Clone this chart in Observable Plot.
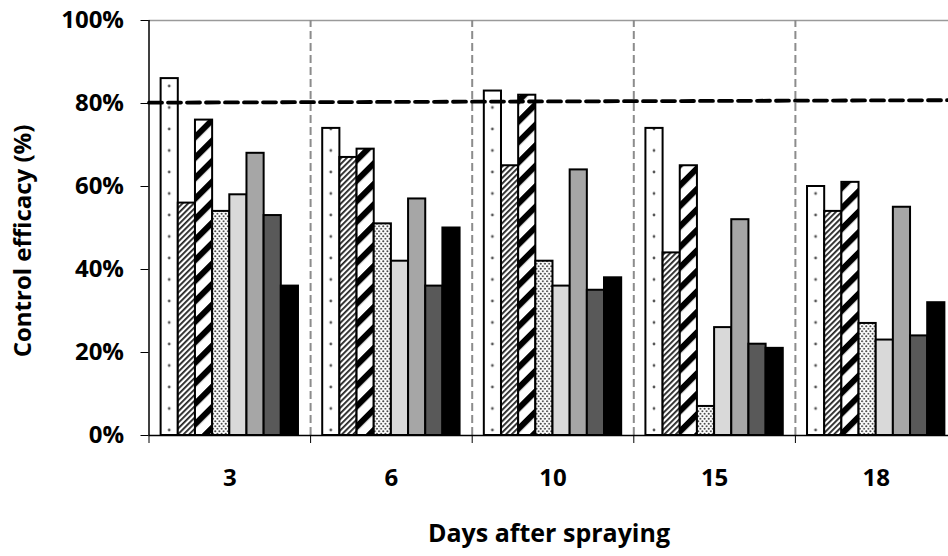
<!DOCTYPE html>
<html><head><meta charset="utf-8">
<script src="https://cdn.jsdelivr.net/npm/d3@7"></script>
<script src="https://cdn.jsdelivr.net/npm/@observablehq/plot@0.6"></script>
<style>html,body{margin:0;padding:0;background:#fff;overflow:hidden;}</style>
</head><body><div id="chart"></div>
<script>
// ---- data ----
const days = ["3", "6", "10", "15", "18"];
const seriesNames = ["T1", "T2", "T3", "T4", "T5", "T6", "T7", "T8"];
const t1 = [86, 74, 83, 74, 60];
const t2 = [56, 67, 65, 44, 54];
const t3 = [76, 69, 82, 65, 61];
const t4 = [54, 51, 42, 7, 27];
const t5 = [58, 42, 36, 26, 23];
const t6 = [68, 57, 64, 52, 55];
const t7 = [53, 36, 35, 22, 24];
const t8 = [36, 50, 38, 21, 32];
const seriesValues = [t1, t2, t3, t4, t5, t6, t7, t8];
const yTicks = [0, 20, 40, 60, 80, 100];
const thresholdX = [0, days.length];
const thresholdY = [80.2, 80.8];
const yLabel = "Control efficacy (%)";
const xLabel = "Days after spraying";

// ---- styles ----
const seriesFills = ["url(#pDots)", "url(#pFine)", "url(#pWide)", "url(#pDense)", "#d9d9d9", "#a6a6a6", "#595959", "#000000"];
const groupFrac = 0.85;
const barW = groupFrac / seriesNames.length;
const off = (1 - groupFrac) / 2;

const rows = [];
seriesValues.forEach((vals, s) => vals.forEach((v, g) => rows.push({g, s, day: days[g], series: seriesNames[s], value: v})));
const threshold = thresholdX.map((x, i) => ({x, y: thresholdY[i]}));
const boundaries = d3.range(1, days.length);
const centers = days.map((d, i) => i + 0.5);

const font = "'Open Sans', sans-serif";

const plot = Plot.plot({
  width: 948,
  height: 556,
  marginTop: 20,
  marginBottom: 121,
  marginLeft: 148.5,
  marginRight: -8.5,
  style: {fontFamily: font, fontWeight: "bold", background: "#fff", color: "#000", overflow: "visible"},
  x: {type: "linear", domain: [0, days.length], axis: null},
  y: {domain: [0, 100], axis: null},
  marks: [
    Plot.ruleY([100], {x1: 0, x2: days.length, stroke: "#9a9a9a", strokeWidth: 1.5}),
    Plot.ruleX(boundaries, {y1: 0, y2: 100, stroke: "#8c8c8c", strokeWidth: 2, strokeDasharray: "8,4"}),
    ...seriesFills.map((fill, s) => Plot.rectY(rows.filter(d => d.s === s), {
      x1: d => d.g + off + d.s * barW,
      x2: d => d.g + off + (d.s + 1) * barW,
      y1: 0, y2: "value",
      fill, stroke: "#000", strokeWidth: 2
    })),
    Plot.line(threshold, {x: "x", y: "y", stroke: "#000", strokeWidth: 3.8, strokeDasharray: "13,6"}),
    Plot.ruleX([0], {y1: 0, y2: 100, stroke: "#000", strokeWidth: 1.5}),
    Plot.ruleY([0], {x1: 0, x2: days.length, stroke: "#000", strokeWidth: 1.5}),
    Plot.axisY({ticks: yTicks, tickFormat: d => d + "%", tickSize: 8, tickPadding: 17, fontSize: 24, fontWeight: "bold", label: null, stroke: "#000"}),
    Plot.axisX({ticks: d3.range(0, days.length + 1), tickFormat: () => "", tickSize: 8, label: null, stroke: "#000"}),
    Plot.axisX({ticks: centers, tickFormat: d => days[Math.floor(d)], tickSize: 0, tickPadding: 33, fontSize: 24, fontWeight: "bold", label: null}),
    Plot.text([yLabel], {frameAnchor: "left", textAnchor: "middle", dx: -126, dy: 13, rotate: -90, fontSize: 24, fontWeight: "bold", fill: "#000"}),
    Plot.text([xLabel], {frameAnchor: "bottom", dx: -4, dy: 106, fontSize: 25, fontWeight: "bold", fill: "#000"})
  ]
});

// ---- patterns (geometry derived from the plot scales) ----
const xs = plot.scale("x"), ys = plot.scale("y");
const step = xs.apply(1) - xs.apply(0);
const dotH = 21.5;
const ns = "http://www.w3.org/2000/svg";
const defs = document.createElementNS(ns, "defs");
function el(name, attrs, parent) {
  const e = document.createElementNS(ns, name);
  for (const k in attrs) e.setAttribute(k, attrs[k]);
  (parent || defs).appendChild(e);
  return e;
}
// sparse dots, one column centered in each series-1 bar
let p = el("pattern", {id: "pDots", patternUnits: "userSpaceOnUse", width: step, height: dotH,
  x: xs.apply(off + barW / 2) - step / 2, y: ys.apply(0) - 5 - dotH / 2});
el("rect", {width: step, height: dotH, fill: "#fff"}, p);
el("circle", {cx: step / 2, cy: dotH / 2, r: 1.4, fill: "#555"}, p);
// fine hatch
p = el("pattern", {id: "pFine", patternUnits: "userSpaceOnUse", width: 4, height: 4, patternTransform: "rotate(45)"});
el("rect", {width: 4, height: 4, fill: "#fff"}, p);
el("rect", {x: 0, y: 0, width: 1.8, height: 4, fill: "#222"}, p);
// wide stripes
p = el("pattern", {id: "pWide", patternUnits: "userSpaceOnUse", width: 14.5, height: 14.5, patternTransform: "rotate(45)"});
el("rect", {width: 14.5, height: 14.5, fill: "#fff"}, p);
el("rect", {x: 0, y: 0, width: 6, height: 14.5, fill: "#000"}, p);
// dense dots
p = el("pattern", {id: "pDense", patternUnits: "userSpaceOnUse", width: 4.2, height: 5});
el("rect", {width: 4.2, height: 5, fill: "#fff"}, p);
el("circle", {cx: 1.05, cy: 1.25, r: 1.0, fill: "#444"}, p);
el("circle", {cx: 3.15, cy: 3.75, r: 1.0, fill: "#444"}, p);
plot.insertBefore(defs, plot.firstChild);

document.getElementById("chart").appendChild(plot);
</script>
</body></html>
